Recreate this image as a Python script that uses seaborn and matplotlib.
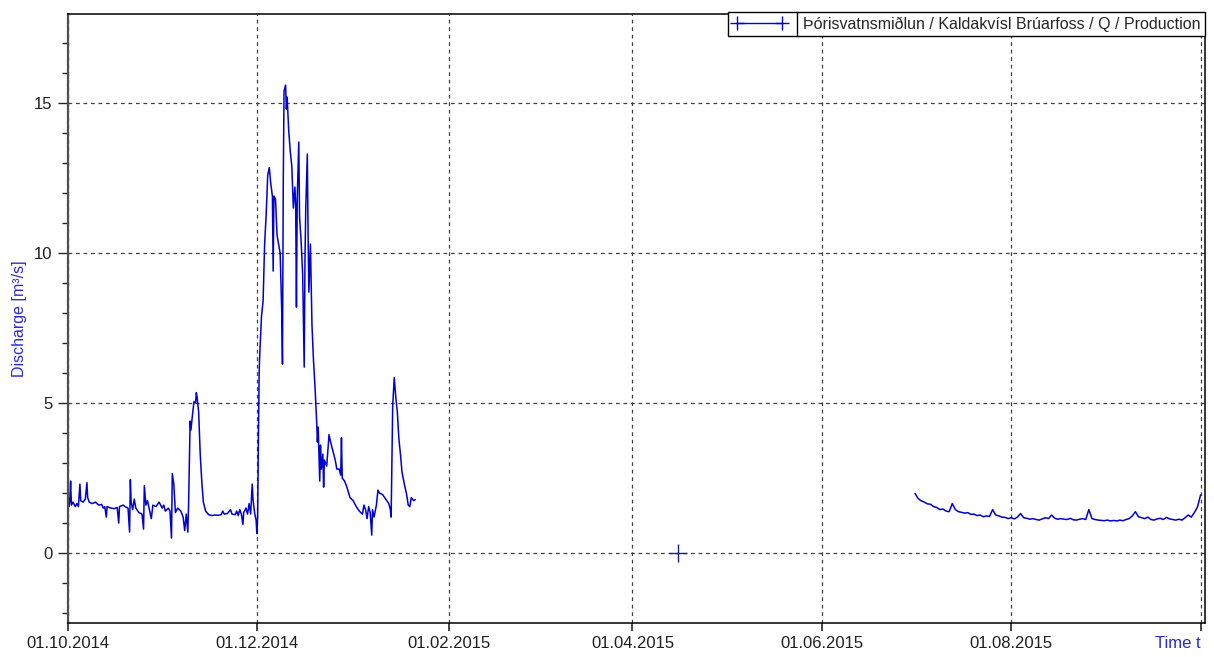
import pandas as pd
import matplotlib
matplotlib.use("Agg")
import matplotlib.pyplot as plt
from matplotlib.lines import Line2D
from matplotlib.ticker import MultipleLocator
import seaborn as sns

SERIES_NAME = "Þórisvatnsmiðlun / Kaldakvísl Brúarfoss / Q / Production"

# autumn/winter 2014-15 record
seg1_time = [
    "2014-10-01 00:00", "2014-10-01 06:00", "2014-10-01 12:00", "2014-10-01 18:00", "2014-10-02 00:00",
    "2014-10-02 06:00", "2014-10-02 18:00", "2014-10-03 12:00", "2014-10-04 00:00", "2014-10-04 12:00",
    "2014-10-05 00:00", "2014-10-05 06:00", "2014-10-06 00:00", "2014-10-06 18:00", "2014-10-07 06:00",
    "2014-10-07 12:00", "2014-10-08 00:00", "2014-10-09 00:00", "2014-10-10 00:00", "2014-10-11 00:00",
    "2014-10-12 00:00", "2014-10-12 12:00", "2014-10-13 00:00", "2014-10-13 12:00", "2014-10-13 18:00",
    "2014-10-15 00:00", "2014-10-16 00:00", "2014-10-17 00:00", "2014-10-17 12:00", "2014-10-17 18:00",
    "2014-10-19 00:00", "2014-10-19 12:00", "2014-10-20 12:00", "2014-10-21 00:00", "2014-10-21 06:00",
    "2014-10-21 12:00", "2014-10-22 00:00", "2014-10-22 12:00", "2014-10-23 00:00", "2014-10-24 00:00",
    "2014-10-25 00:00", "2014-10-25 12:00", "2014-10-25 18:00", "2014-10-26 06:00", "2014-10-26 18:00",
    "2014-10-27 12:00", "2014-10-28 00:00", "2014-10-28 12:00", "2014-10-29 12:00", "2014-10-30 12:00",
    "2014-10-31 12:00", "2014-11-01 00:00", "2014-11-01 12:00", "2014-11-02 12:00", "2014-11-03 00:00",
    "2014-11-03 12:00", "2014-11-03 18:00", "2014-11-04 06:00", "2014-11-04 18:00", "2014-11-05 12:00",
    "2014-11-06 12:00", "2014-11-07 06:00", "2014-11-07 18:00", "2014-11-08 06:00", "2014-11-08 18:00",
    "2014-11-09 00:00", "2014-11-09 06:00", "2014-11-09 12:00", "2014-11-09 18:00", "2014-11-10 06:00",
    "2014-11-10 18:00", "2014-11-11 06:00", "2014-11-11 12:00", "2014-11-11 18:00", "2014-11-12 06:00",
    "2014-11-12 18:00", "2014-11-13 06:00", "2014-11-13 18:00", "2014-11-14 12:00", "2014-11-15 12:00",
    "2014-11-16 12:00", "2014-11-17 12:00", "2014-11-18 12:00", "2014-11-19 12:00", "2014-11-20 00:00",
    "2014-11-20 12:00", "2014-11-21 12:00", "2014-11-22 12:00", "2014-11-23 00:00", "2014-11-24 00:00",
    "2014-11-24 12:00", "2014-11-25 00:00", "2014-11-25 12:00", "2014-11-26 00:00", "2014-11-26 12:00",
    "2014-11-26 18:00", "2014-11-27 12:00", "2014-11-28 00:00", "2014-11-28 12:00", "2014-11-29 00:00",
    "2014-11-29 12:00", "2014-11-29 18:00", "2014-11-30 06:00", "2014-11-30 18:00", "2014-12-01 00:00",
    "2014-12-01 06:00", "2014-12-01 12:00", "2014-12-01 18:00", "2014-12-02 00:00", "2014-12-02 12:00",
    "2014-12-03 00:00", "2014-12-03 12:00", "2014-12-04 00:00", "2014-12-04 12:00", "2014-12-05 00:00",
    "2014-12-05 12:00", "2014-12-06 00:00", "2014-12-06 06:00", "2014-12-06 12:00", "2014-12-07 00:00",
    "2014-12-07 12:00", "2014-12-08 00:00", "2014-12-08 12:00", "2014-12-09 00:00", "2014-12-09 06:00",
    "2014-12-09 12:00", "2014-12-09 18:00", "2014-12-10 06:00", "2014-12-10 12:00", "2014-12-10 18:00",
    "2014-12-11 06:00", "2014-12-11 18:00", "2014-12-12 06:00", "2014-12-12 18:00", "2014-12-13 06:00",
    "2014-12-13 12:00", "2014-12-13 18:00", "2014-12-14 00:00", "2014-12-14 12:00", "2014-12-14 18:00",
    "2014-12-15 06:00", "2014-12-15 18:00", "2014-12-16 06:00", "2014-12-16 12:00", "2014-12-16 18:00",
    "2014-12-17 06:00", "2014-12-17 12:00", "2014-12-17 18:00", "2014-12-18 06:00", "2014-12-18 18:00",
    "2014-12-19 06:00", "2014-12-19 18:00", "2014-12-20 06:00", "2014-12-20 12:00", "2014-12-20 18:00",
    "2014-12-21 06:00", "2014-12-21 12:00", "2014-12-21 18:00", "2014-12-22 06:00", "2014-12-22 12:00",
    "2014-12-22 18:00", "2014-12-23 12:00", "2014-12-24 06:00", "2014-12-24 18:00", "2014-12-25 12:00",
    "2014-12-26 06:00", "2014-12-26 18:00", "2014-12-27 12:00", "2014-12-28 00:00", "2014-12-28 06:00",
    "2014-12-28 12:00", "2014-12-29 06:00", "2014-12-30 00:00", "2014-12-31 00:00", "2015-01-01 00:00",
    "2015-01-02 00:00", "2015-01-03 00:00", "2015-01-04 00:00", "2015-01-04 12:00", "2015-01-05 00:00",
    "2015-01-05 12:00", "2015-01-06 00:00", "2015-01-06 12:00", "2015-01-07 00:00", "2015-01-07 06:00",
    "2015-01-07 18:00", "2015-01-08 12:00", "2015-01-09 00:00", "2015-01-09 12:00", "2015-01-10 12:00",
    "2015-01-11 12:00", "2015-01-12 12:00", "2015-01-13 00:00", "2015-01-13 06:00", "2015-01-13 12:00",
    "2015-01-13 18:00", "2015-01-14 06:00", "2015-01-14 18:00", "2015-01-15 06:00", "2015-01-15 18:00",
    "2015-01-16 06:00", "2015-01-16 18:00", "2015-01-17 12:00", "2015-01-18 06:00", "2015-01-18 18:00",
    "2015-01-19 06:00", "2015-01-19 18:00", "2015-01-20 12:00", "2015-01-21 00:00",
]
seg1_q = [
    1.70, 1.85, 1.55, 1.75, 2.40,
    1.60, 1.70, 1.55, 1.65, 1.55,
    2.30, 1.75, 1.70, 1.80, 2.35,
    1.85, 1.70, 1.65, 1.70, 1.60,
    1.62, 1.50, 1.55, 1.20, 1.55,
    1.50, 1.48, 1.52, 1.00, 1.55,
    1.60, 1.55, 1.50, 0.70, 2.45,
    1.70, 1.45, 1.80, 1.50, 1.35,
    1.30, 0.80, 2.25, 1.60, 1.75,
    1.40, 1.15, 1.60, 1.55, 1.70,
    1.50, 1.60, 1.40, 1.50, 1.40,
    0.50, 2.65, 2.30, 1.35, 1.50,
    1.40, 1.20, 0.75, 1.30, 0.70,
    1.60, 3.10, 4.40, 4.10, 4.60,
    5.05, 5.00, 5.35, 5.20, 4.70,
    3.30, 2.40, 1.70, 1.40, 1.28,
    1.25, 1.27, 1.26, 1.28, 1.40,
    1.30, 1.32, 1.45, 1.30, 1.28,
    1.40, 1.25, 1.45, 1.30, 0.95,
    1.35, 1.50, 1.30, 1.65, 1.30,
    2.30, 1.80, 1.35, 1.10, 0.65,
    1.20, 3.90, 6.10, 6.80, 7.90,
    8.40, 10.30, 11.30, 12.60, 12.85,
    12.30, 11.90, 9.40, 11.90, 11.80,
    10.60, 10.30, 10.00, 8.10, 6.30,
    12.30, 15.40, 15.60, 14.80, 15.20,
    14.10, 13.40, 12.90, 11.50, 12.20,
    11.60, 8.20, 11.80, 13.70, 11.20,
    10.40, 9.30, 6.20, 9.80, 11.50,
    13.30, 10.60, 8.70, 10.30, 7.60,
    6.40, 5.50, 4.40, 3.70, 4.20,
    2.40, 3.60, 2.80, 3.30, 2.20,
    3.10, 2.90, 3.95, 3.70, 3.40,
    3.10, 2.80, 2.80, 2.60, 3.85,
    2.50, 2.40, 2.20, 1.85, 1.75,
    1.55, 1.40, 1.30, 1.60, 1.45,
    1.15, 1.55, 1.35, 0.60, 1.45,
    1.20, 1.60, 2.10, 2.00, 1.95,
    1.80, 1.65, 1.45, 1.20, 3.00,
    4.90, 5.85, 5.20, 4.70, 3.80,
    3.30, 2.70, 2.30, 1.95, 1.60,
    1.55, 1.85, 1.75, 1.78,
]

# summer 2015 record, one reading per day from 1 July
seg2_start = "2015-07-01"
seg2_q = [
    # July
    1.99, 1.82, 1.74, 1.70, 1.64, 1.63, 1.55, 1.52, 1.45, 1.47,
    1.40, 1.38, 1.65, 1.45, 1.38, 1.36, 1.33, 1.35, 1.29, 1.30,
    1.25, 1.27, 1.21, 1.24, 1.22, 1.45, 1.27, 1.24, 1.20, 1.19, 1.15,
    # August
    1.18, 1.14, 1.20, 1.32, 1.18, 1.16, 1.13, 1.15, 1.12, 1.10,
    1.14, 1.18, 1.15, 1.27, 1.16, 1.13, 1.15, 1.13, 1.12, 1.16,
    1.11, 1.10, 1.13, 1.15, 1.12, 1.45, 1.15, 1.12, 1.10, 1.09, 1.08,
    # September
    1.10, 1.07, 1.09, 1.07, 1.10, 1.08, 1.12, 1.15, 1.24, 1.38,
    1.21, 1.18, 1.15, 1.20, 1.12, 1.10, 1.14, 1.16, 1.12, 1.19,
    1.14, 1.12, 1.10, 1.13, 1.10, 1.18, 1.27, 1.20, 1.35, 1.54,
    # 1 October
    1.94,
]

# lone reading in April
single_time = ["2015-04-15 12:00"]
single_q = [0.0]

tick_dates = ["2014-10-01", "2014-12-01", "2015-02-01", "2015-04-01", "2015-06-01", "2015-08-01", "2015-10-01"]
tick_labels = ["01.10.2014", "01.12.2014", "01.02.2015", "01.04.2015", "01.06.2015", "01.08.2015", "Time t"]

df = pd.concat([
    pd.DataFrame({"time": pd.to_datetime(seg1_time), "q": seg1_q, "segment": 1}),
    pd.DataFrame({"time": pd.date_range(seg2_start, periods=len(seg2_q), freq="D"),
                  "q": seg2_q, "segment": 2}),
])
df_pt = pd.DataFrame({"time": pd.to_datetime(single_time), "q": single_q})

sns.set_style("ticks")
plt.rcParams["font.family"] = ["Liberation Sans", "DejaVu Sans"]

LINE_COLOR = "#0000d0"
LABEL_BLUE = "#2a2ad0"

fig = plt.figure(figsize=(12.14, 6.57), dpi=100)
ax = fig.add_axes([67.5 / 1214, 1 - 623 / 657, (1205 - 67.5) / 1214, (623 - 14) / 657])

sns.lineplot(data=df, x="time", y="q", units="segment", estimator=None,
             color=LINE_COLOR, linewidth=1.1, ax=ax, legend=False)
sns.scatterplot(data=df_pt, x="time", y="q", marker="+", s=150, color="#1c1c90",
                linewidth=1.0, ax=ax, legend=False, zorder=4)

ax.set_xlim(pd.Timestamp("2014-10-01"), pd.Timestamp("2015-10-02 10:00"))
ax.set_ylim(-2.33, 17.97)

ax.set_xticks(pd.to_datetime(tick_dates))
ax.set_xticklabels(tick_labels)
ax.yaxis.set_major_locator(MultipleLocator(5))
ax.yaxis.set_minor_locator(MultipleLocator(1))

ax.grid(True, which="major", linestyle=(0, (3, 3)), color="#404040", linewidth=0.9)
ax.tick_params(axis="x", which="major", direction="out", length=6, width=1.2,
               labelsize=12, labelcolor="#202020", pad=3)
ax.tick_params(axis="y", which="major", direction="out", length=7, width=1.0,
               labelsize=12, labelcolor="#202020", pad=4)
ax.tick_params(axis="y", which="minor", direction="out", length=4, width=1.0)

# last x label is the axis caption, in blue
time_lbl = ax.get_xticklabels()[-1]
time_lbl.set_color(LABEL_BLUE)
time_lbl.set_horizontalalignment("right")

for side in ["top", "right", "bottom"]:
    ax.spines[side].set_visible(True)
    ax.spines[side].set_color("black")
    ax.spines[side].set_linewidth(1.1)
ax.spines["left"].set_color("#505050")
ax.spines["left"].set_linewidth(1.6)

ax.set_xlabel("")
ax.set_ylabel("Discharge [m³/s]", color=LABEL_BLUE, fontsize=11.5, labelpad=5)

handle = Line2D([], [], color=LINE_COLOR, linewidth=1.0, marker="+", markersize=10)
leg = ax.legend([handle], [SERIES_NAME], loc="upper right", bbox_to_anchor=(1.0, 1.004),
                borderaxespad=0, fancybox=False, framealpha=1, edgecolor="black",
                fontsize=11.5, handlelength=3.4, numpoints=2, borderpad=0.3,
                handletextpad=1.0)
leg.get_frame().set_linewidth(1.0)

# divider between the symbol and the text, as in the legend box of the source
fig.canvas.draw()
txt_box = leg.get_texts()[0].get_window_extent()
frame_box = leg.get_frame().get_window_extent()
x_div = (txt_box.x0 - 6) / fig.bbox.width
fig.add_artist(Line2D([x_div, x_div], [frame_box.y0 / fig.bbox.height, frame_box.y1 / fig.bbox.height],
                      color="black", linewidth=1.0, zorder=10))

fig.savefig("out.png", dpi=100)
